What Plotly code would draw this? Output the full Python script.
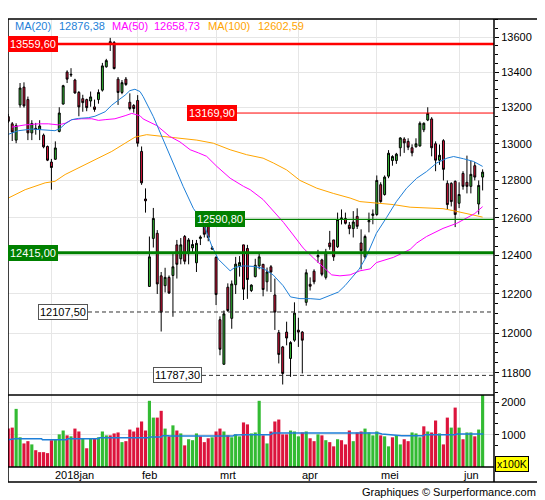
import math
import plotly.graph_objects as go

# DAX daily candles, mid dec 2017 -> early jun 2018
opens = [13150, 13110, 13020, 13215, 13315, 13245, 13060, 13085, 13078, 13047,
         12985, 12900, 12915, 13068, 13220, 13400, 13383, 13355, 13285, 13250,
         13245, 13237, 13204, 13245, 13298, 13430, 13573, 13568, 13360, 13285,
         13360, 13230, 13212, 13240, 12958, 12700, 12239, 12490, 12517, 12294,
         12243, 12286, 12296, 12456, 12383, 12500, 12410, 12440, 12362, 12490,
         12565, 12570, 12440, 12390, 12068, 11843, 12235, 12075, 12248, 12346,
         12456, 12437, 12218, 12290, 12346, 12354, 12263, 12341, 12195, 12002,
         11930, 12005, 11872, 11964, 12015, 12005, 12157, 12250, 12318, 12393,
         12377, 12286, 12466, 12482, 12446, 12594, 12596, 12560, 12542, 12607,
         12466, 12393, 12578, 12612, 12617, 12777, 12724, 12823, 12908, 12908,
         12978, 13026, 13013, 12978, 12984, 12988, 13077, 13131, 13137, 13000,
         12910, 13017, 12784, 12784, 12795, 12677, 12838, 12790, 12768, 12880,
         12673, 12818]
highs = [13165, 13120, 13113, 13338, 13342, 13262, 13130, 13115, 13130, 13056,
         12990, 12917, 13013, 13202, 13328, 13410, 13422, 13362, 13293, 13272,
         13250, 13290, 13245, 13302, 13452, 13475, 13595, 13577, 13372, 13355,
         13372, 13280, 13220, 13270, 12985, 12757, 12500, 12652, 12534, 12314,
         12336, 12296, 12414, 12482, 12492, 12508, 12492, 12482, 12482, 12506,
         12580, 12580, 12450, 12397, 12085, 12115, 12255, 12270, 12393, 12397,
         12456, 12456, 12250, 12383, 12410, 12356, 12337, 12350, 12280, 12016,
         11935, 12058, 11959, 12157, 12078, 12010, 12328, 12286, 12328, 12430,
         12383, 12435, 12530, 12482, 12627, 12644, 12627, 12577, 12635, 12650,
         12538, 12510, 12627, 12644, 12827, 12790, 12827, 12965, 12937, 12950,
         13036, 13036, 13030, 12997, 13030, 13123, 13118, 13202, 13147, 13013,
         12996, 13025, 12800, 12790, 12800, 12790, 12850, 12935, 12907, 12900,
         12800, 12860]
lows = [13115, 13015, 13003, 13200, 13200, 13020, 13020, 13050, 13020, 12975,
        12905, 12750, 12912, 13063, 13217, 13338, 13372, 13278, 13152, 13177,
        13180, 13205, 13177, 13222, 13290, 13425, 13520, 13415, 13215, 13275,
        13322, 13185, 13172, 12984, 12776, 12627, 12239, 12442, 12200, 12008,
        12208, 12200, 12083, 12280, 12354, 12354, 12354, 12414, 12314, 12455,
        12495, 12475, 12430, 12143, 11888, 11840, 12108, 12022, 12200, 12290,
        12169, 12175, 12210, 12286, 12328, 12188, 12213, 12210, 12016, 11847,
        11742, 11938, 11780, 11956, 11930, 11797, 12140, 12218, 12250, 12362,
        12292, 12275, 12430, 12372, 12440, 12564, 12564, 12512, 12495, 12540,
        12328, 12383, 12522, 12565, 12610, 12680, 12718, 12812, 12880, 12890,
        12931, 12950, 12965, 12931, 12978, 12984, 13064, 13125, 12931, 12850,
        12885, 12800, 12644, 12660, 12550, 12651, 12750, 12730, 12730, 12800,
        12617, 12746]
closes = [13124, 13065, 13100, 13310, 13210, 13060, 13112, 13080, 13098, 12983,
          12910, 12870, 12977, 13170, 13323, 13360, 13387, 13282, 13204, 13228,
          13200, 13260, 13190, 13285, 13435, 13465, 13560, 13420, 13285, 13340,
          13330, 13195, 13195, 13003, 12787, 12690, 12393, 12596, 12252, 12106,
          12286, 12205, 12341, 12354, 12456, 12370, 12482, 12458, 12464, 12497,
          12512, 12495, 12435, 12197, 11918, 12098, 12115, 12252, 12355, 12363,
          12225, 12275, 12246, 12349, 12393, 12223, 12314, 12314, 12107, 11892,
          11797, 11975, 11952, 12102, 12005, 11964, 12310, 12240, 12263, 12400,
          12302, 12418, 12446, 12393, 12590, 12598, 12570, 12542, 12577, 12554,
          12425, 12500, 12585, 12620, 12800, 12686, 12818, 12948, 12930, 12943,
          13032, 13005, 12981, 12950, 13000, 13113, 13113, 13168, 12978, 12910,
          12937, 12860, 12670, 12686, 12617, 12724, 12768, 12768, 12833, 12818,
          12773, 12845]

# volume in units of 100K, colour flag per bar (g = up, r = down)
volumes = [1190, 1220, 1800, 920, 730, 800, 700, 520, 460, 460,
           430, 830, 860, 1010, 1130, 980, 950, 1190, 1100, 890,
           580, 890, 890, 920, 1100, 980, 980, 1040, 1070, 770,
           800, 1160, 1100, 1220, 1410, 1130, 2050, 1530, 1530, 1740,
           1190, 950, 1290, 1130, 1040, 670, 860, 830, 1040, 950,
           770, 890, 920, 1100, 1190, 1100, 980, 920, 1010, 950,
           1380, 1320, 1040, 1070, 2050, 980, 730, 1100, 1410, 1470,
           1010, 1010, 1130, 1100, 950, 1070, 1100, 890, 800, 1010,
           980, 830, 770, 640, 860, 830, 700, 1130, 800, 1070,
           1100, 1190, 1070, 980, 1100, 980, 950, 640, 920, 980,
           700, 860, 800, 1070, 1040, 920, 1260, 1100, 1070, 1440,
           1040, 700, 1530, 1220, 1840, 1220, 860, 1070, 1070, 950,
           1160, 2350]
vol_dir = ("rrggrrgrrr" "rrgggrgrrg" "rgrgggrrrg" "rrrrrrggrr" "grgrgrgggr"
           "rrgrrgrggg" "rrgggrgrrr" "rrgggrgrrg" "rgrrgrrrgr" "rggggrggrg"
           "grrgggrgrr" "grrgrgrggr" "gg")

# moving averages (bar index, value)
ma20_x = [0, 2.6, 6, 8.5, 9.8, 11.9, 13.2, 14.5, 16.2, 17.9, 20.4, 22.1, 24.7, 26.4,
          28.1, 29.8, 31, 32.3, 33.6, 34.4, 37, 39.5, 42, 44.6, 47.2, 49.7, 51.9,
          53.6, 55.3, 56.6, 57.8, 60, 62.5, 65, 67.6, 70.1, 72, 74.4, 77, 79.5,
          82.1, 84.2, 85.9, 87.6, 89.5, 91.2, 93.9, 96.5, 99, 101.6, 104.2, 106.7,
          109.3, 111.9, 113.6, 116.1, 118.7, 121]
ma20_y = [13052, 13072, 13081, 13077, 13072, 13072, 13084, 13110, 13133, 13140, 13144,
          13152, 13177, 13214, 13242, 13270, 13295, 13303, 13290, 13262, 13150, 13020,
          12895, 12768, 12650, 12575, 12450, 12380, 12346, 12320, 12338, 12346, 12343,
          12333, 12298, 12243, 12185, 12176, 12176, 12172, 12193, 12210, 12243, 12286,
          12329, 12388, 12517, 12601, 12686, 12758, 12812, 12848, 12895, 12921, 12930,
          12918, 12903, 12876]
ma50_x = [0.9, 4.3, 7.7, 10.2, 12.8, 14.5, 16.2, 18.7, 21.3, 23, 24.7, 27.2, 29.8,
          31.5, 33.6, 34.4, 37.9, 41.2, 43.8, 46.4, 48.5, 50.6, 53.2, 56.6, 60, 61.7,
          65, 67.6, 70.2, 72.7, 75.2, 77.8, 80.4, 82.5, 84.6, 87.2, 89.7, 92.3, 93.9,
          98.2, 102.5, 104.2, 106.7, 110.9, 114.4, 116.9, 119, 121]
ma50_y = [13092, 13104, 13110, 13110, 13104, 13113, 13133, 13138, 13138, 13129, 13133,
          13138, 13155, 13168, 13155, 13137, 13100, 13040, 13010, 12967, 12950, 12931,
          12876, 12812, 12768, 12750, 12697, 12635, 12575, 12508, 12440, 12388, 12337,
          12299, 12294, 12299, 12320, 12330, 12363, 12390, 12432, 12466, 12500, 12543,
          12570, 12596, 12622, 12659]
ma100_x = [0, 4.3, 9.4, 11.9, 14.5, 18.7, 23, 26.4, 29.8, 32.3, 35.3, 39.5, 43.8,
           48.1, 52.3, 56.6, 60.8, 65, 67.6, 71, 74.4, 78.7, 82.9, 87.2, 89.7, 93.9,
           98.2, 102.5, 106.7, 110.9, 113.4, 116.1, 118.7, 121]
ma100_y = [12705, 12750, 12787, 12795, 12832, 12876, 12921, 12958, 13003, 13036, 13050,
           13040, 13030, 13020, 13003, 12967, 12940, 12921, 12895, 12857, 12800, 12758,
           12730, 12705, 12686, 12679, 12670, 12656, 12652, 12648, 12638, 12627, 12614,
           12603]
volma_x = [0, 1.7, 8.5, 8.7, 14.9, 15.1, 23, 23.2, 35.7, 36, 39.1, 39.3, 40.8, 41.3,
           57.3, 57.7, 60.4, 66.8, 67.6, 94.4, 95.3, 97, 100.4, 105.9, 106.3, 114,
           114.4, 121.2]
volma_y = [847, 877, 877, 847, 847, 877, 877, 908, 908, 928, 928, 969, 969, 959, 959,
           990, 1000, 1000, 1050, 1050, 1020, 1000, 969, 969, 1000, 1000, 1020, 1020]

month_pos = [11, 33, 53, 74, 94, 115]
month_labels = ["2018jan", "feb", "mrt", "apr", "mei", "jun"]

price_ticks = [11800, 12000, 12200, 12400, 12600, 12800, 13000, 13200, 13400, 13600]
vol_ticks = [1000, 2000]

levels = [13559.60, 13169.90, 12590.80, 12415.00, 12107.50, 11787.30]
level_text = ["13559,60", "13169,90", "12590,80", "12415,00", "12107,50", "11787,30"]

ma_names = ["MA(20)", "MA(50)", "MA(100)"]
ma_last = ["12876,38", "12658,73", "12602,59"]

RED = "#dc143c"
GREEN = "#33bb33"
BLUE = "#1e7fd8"
MAGENTA = "#ff00ff"
ORANGE = "#ffa500"
FONT = "Liberation Sans"

# the page puts the figure 8px in from the window corner, so the figure is
# 8px smaller and every position below is given in window pixels
OFF = 8
W, H = 545 - OFF, 500 - OFF
L, R, T, B = 8, 494, 19, 467   # plot area in window pixels


def px(x):
    return (x - L) / (R - L)


def py(y):
    return (B - y) / (B - T)


idx = list(range(len(closes)))

fig = go.Figure()

fig.add_trace(go.Candlestick(
    x=idx, open=opens, high=highs, low=lows, close=closes,
    increasing=dict(fillcolor=GREEN, line=dict(color="black", width=1)),
    decreasing=dict(fillcolor=RED, line=dict(color="black", width=1)),
    whiskerwidth=0, hoverinfo="skip", xaxis="x", yaxis="y"))

for xs, ys, col in [(ma100_x, ma100_y, ORANGE), (ma50_x, ma50_y, MAGENTA), (ma20_x, ma20_y, BLUE)]:
    fig.add_trace(go.Scatter(x=xs, y=ys, mode="lines", line=dict(color=col, width=1),
                             hoverinfo="skip", xaxis="x", yaxis="y"))

fig.add_trace(go.Bar(
    x=idx, y=volumes, marker=dict(color=[GREEN if d == "g" else RED for d in vol_dir], line=dict(width=0)),
    hoverinfo="skip", xaxis="x2", yaxis="y2"))
fig.add_trace(go.Scatter(x=volma_x, y=volma_y, mode="lines", line=dict(color=BLUE, width=1.5),
                         hoverinfo="skip", xaxis="x2", yaxis="y2"))

shapes = []
# level lines
line_start = [0, px(237), px(245), 0, px(88), px(202)]
line_style = [dict(color="#ff0000", width=2.5), dict(color="#ff0000", width=1),
              dict(color="#008000", width=1.2), dict(color="#008000", width=3),
              dict(color="#333333", width=1, dash="4px,3px"), dict(color="#333333", width=1, dash="4px,3px")]
for lv, x0, st in zip(levels, line_start, line_style):
    shapes.append(dict(type="line", xref="paper", yref="y", x0=x0, x1=1, y0=lv, y1=lv, line=st, layer="above"))

# frame
frame = dict(color="black", width=1.5)
shapes.append(dict(type="rect", xref="paper", yref="paper", x0=0, x1=px(538), y0=py(482), y1=1, line=frame))
shapes.append(dict(type="line", xref="paper", yref="paper", x0=1, x1=1, y0=py(482), y1=1, line=frame))
shapes.append(dict(type="line", xref="paper", yref="paper", x0=0, x1=1, y0=py(395), y1=py(395), line=frame))
shapes.append(dict(type="line", xref="paper", yref="paper", x0=0, x1=1, y0=0, y1=0, line=frame))

annotations = []
# level boxes
box_x = [0, px(237), px(245), 0, px(88), px(202)]
box_anchor = ["left", "right", "right", "left", "right", "right"]
box_bg = ["#ff0000", "#ff0000", "#008000", "#008000", "white", "white"]
box_fg = ["white", "white", "white", "white", "black", "black"]
box_border = ["#ff0000", "#ff0000", "#008000", "#008000", "#555555", "#555555"]
for lv, txt, bx, an, bg, fg, bc in zip(levels, level_text, box_x, box_anchor, box_bg, box_fg, box_border):
    annotations.append(dict(text=txt, xref="paper", yref="y", x=bx, y=math.log10(lv),
                            xanchor=an, yanchor="middle", showarrow=False, bgcolor=bg,
                            bordercolor=bc, borderwidth=1, borderpad=1,
                            font=dict(family=FONT, size=11, color=fg)))

# MA legend on top
leg_x = [13, 57, 110, 152, 206, 256]
leg_txt = [ma_names[0], ma_last[0], ma_names[1], ma_last[1], ma_names[2], ma_last[2]]
leg_col = [BLUE, BLUE, MAGENTA, MAGENTA, ORANGE, ORANGE]
for lx, lt, lc in zip(leg_x, leg_txt, leg_col):
    annotations.append(dict(text=lt, xref="paper", yref="paper", x=px(lx), y=py(26),
                            xanchor="left", yanchor="middle", showarrow=False,
                            font=dict(family=FONT, size=11, color=lc)))

# month labels
for mp, ml in zip(month_pos, month_labels):
    annotations.append(dict(text=ml, xref="x", yref="paper", x=mp, y=py(475), xanchor="left",
                            yanchor="middle", xshift=2, showarrow=False,
                            font=dict(family=FONT, size=11, color="black")))

annotations.append(dict(text="x100K", xref="paper", yref="paper", x=px(495), y=py(464),
                        xanchor="left", yanchor="middle", showarrow=False, bgcolor="#ffff00",
                        bordercolor="black", borderwidth=1, borderpad=1,
                        font=dict(family=FONT, size=10.5, color="black")))
annotations.append(dict(text="Graphiques © Surperformance.com", xref="paper", yref="paper",
                        x=px(538), y=py(492), xanchor="right", yanchor="middle", showarrow=False,
                        font=dict(family=FONT, size=11, color="black")))

grid = "#e6e6e6"
xr = [(L - 8.3) / 3.92, (R - 8.3) / 3.92]
fig.update_layout(
    width=W, height=H,
    margin=dict(l=L - OFF, r=545 - R, t=T - OFF, b=500 - B),
    paper_bgcolor="white", plot_bgcolor="white",
    showlegend=False, bargap=0.2,
    font=dict(family=FONT, size=11, color="black"),
    xaxis=dict(range=xr, domain=[0, 1], anchor="y", rangeslider=dict(visible=False),
               tickvals=month_pos, showticklabels=False, ticks="", showgrid=True, gridcolor=grid,
               zeroline=False, showline=False),
    xaxis2=dict(range=xr, domain=[0, 1], anchor="y2", matches="x",
                tickvals=month_pos, showticklabels=False, ticks="", showgrid=True, gridcolor=grid,
                zeroline=False, showline=False),
    yaxis=dict(type="log", domain=[py(395), 1], range=[math.log10(11690), math.log10(13704)],
               side="right", anchor="x", tickvals=price_ticks, ticktext=[str(t) for t in price_ticks],
               ticks="outside", ticklen=4, tickcolor="black", showgrid=True, gridcolor=grid,
               tickfont=dict(family=FONT, size=11), zeroline=False, showline=False,
               minor=dict(tickvals=list(range(11700, 13701, 50)), ticks="outside", ticklen=3,
                          tickcolor="black", showgrid=False)),
    yaxis2=dict(domain=[0, py(395)], range=[0, 2230], side="right", anchor="x2",
                tickvals=vol_ticks, ticktext=[str(t) for t in vol_ticks],
                ticks="outside", ticklen=4, tickcolor="black", showgrid=True, gridcolor=grid,
                tickfont=dict(family=FONT, size=11), zeroline=False, showline=False,
                minor=dict(tickvals=[333, 667, 1333, 1667], ticks="outside", ticklen=3,
                           tickcolor="black", showgrid=False)),
    shapes=shapes,
    annotations=annotations,
)

fig.write_html("out.html")
